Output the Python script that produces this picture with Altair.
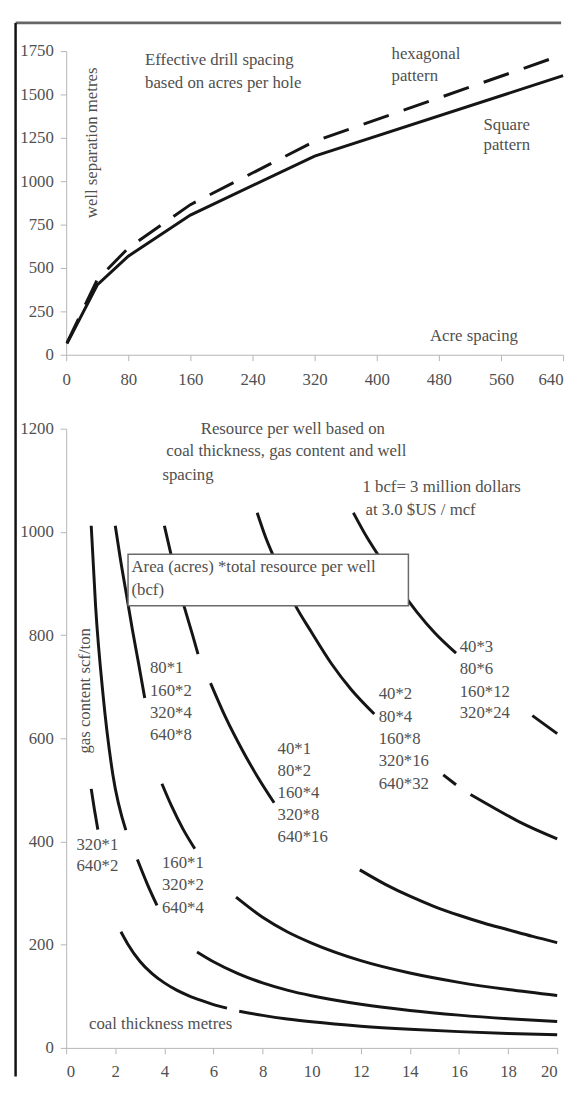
import altair as alt
import pandas as pd

FONT = "Liberation Serif"
TXT = "#505050"
LINE = "#151515"

# ---------------- top chart data ----------------
acres = [1, 40, 80, 160, 320, 640]
square_m = [64, 402, 568, 805, 1145, 1608]
hex_m = [68, 432, 615, 865, 1230, 1730]
top_x_ticks = [0, 80, 160, 240, 320, 400, 480, 560, 640]
top_y_ticks = [0, 250, 500, 750, 1000, 1250, 1500, 1750]

# ---------------- bottom chart data (curve segments) ----------------
F1_x = [1.02, 1.15, 1.29]
F1_y = [502, 462, 423]
F2_x = [2.23, 2.5, 3.0, 3.5, 4.0, 4.5, 5.0, 5.5, 6.0, 6.55]
F2_y = [225, 202, 168, 144, 126, 112, 101, 92, 84, 77]
F3_x = [7.05, 8, 9, 10, 12, 14, 16, 18, 20]
F3_y = [71, 63, 56, 50.5, 42, 36, 31.5, 28, 25.5]
E1_x = [1.02, 1.2, 1.5, 1.9, 2.43]
E1_y = [1012, 855, 685, 530, 422]
E2_x = [2.9, 3.3, 3.7]
E2_y = [365, 318, 276]
E3_x = [5.33, 6, 7, 8, 9, 10, 12, 14, 16, 18, 20]
E3_y = [186, 167, 144, 126, 112, 101, 84.5, 72.5, 63.5, 56.5, 51]
D1_x = [2.0, 2.2, 2.45, 2.7, 2.95, 3.2]
D1_y = [1012, 950, 880, 810, 745, 678]
D2_x = [3.9, 4.3, 4.75, 5.24]
D2_y = [512, 468, 425, 386]
D3_x = [6.92, 8, 9, 10, 12, 14, 16, 18, 20]
D3_y = [292, 253, 225, 203, 169, 145, 127, 113, 101.5]
C1_x = [4.0, 4.3, 4.6, 4.9, 5.15, 5.37]
C1_y = [1012, 950, 890, 840, 800, 763]
C2_x = [5.88, 6.5, 7.2, 7.8, 8.47]
C2_y = [707, 640, 575, 525, 475]
C3_x = [11.96, 13, 14, 15, 16, 17, 18, 19, 20]
C3_y = [345, 317, 294, 274, 257, 242, 229, 216, 204]
B1_x = [7.78, 8.12, 8.45, 9.33, 10.0, 10.8, 11.6, 12.55]
B1_y = [1037, 990, 952, 858, 805, 745, 695, 647]
B2_x = [15.36, 15.88]
B2_y = [529, 510]
B3_x = [16.47, 17.5, 18.5, 20]
B3_y = [491, 463, 437, 405]
A1_x = [11.7, 12.27, 12.67, 13.2, 13.88, 14.28, 15.0, 15.88]
A1_y = [1037, 988, 958, 918, 870, 845, 805, 765]
A2_x = [18.99, 20]
A2_y = [644, 609]

segments = {
    "F1": (F1_x, F1_y), "F2": (F2_x, F2_y), "F3": (F3_x, F3_y),
    "E1": (E1_x, E1_y), "E2": (E2_x, E2_y), "E3": (E3_x, E3_y),
    "D1": (D1_x, D1_y), "D2": (D2_x, D2_y), "D3": (D3_x, D3_y),
    "C1": (C1_x, C1_y), "C2": (C2_x, C2_y), "C3": (C3_x, C3_y),
    "B1": (B1_x, B1_y), "B2": (B2_x, B2_y), "B3": (B3_x, B3_y),
    "A1": (A1_x, A1_y), "A2": (A2_x, A2_y),
}
bot_x_ticks = list(range(0, 21, 2))
bot_y_ticks = [0, 200, 400, 600, 800, 1000, 1200]

# ---------------- annotation texts ----------------
top_texts = [
    ("Effective drill spacing", 101.6, 1697),
    ("based on acres per hole", 101.6, 1565),
    ("hexagonal", 419, 1735),
    ("pattern", 419, 1608),
    ("Square", 537.5, 1325),
    ("pattern", 537.5, 1211),
    ("Acre spacing", 468.6, 108),
]
top_vtext = [("well separation metres", 33, 1221)]

bot_texts = [
    ("Resource per well based on", 5.48, 1199),
    ("coal thickness, gas content and well", 4.08, 1156),
    ("spacing", 3.92, 1111),
    ("1 bcf= 3 million dollars", 12.07, 1086),
    ("at 3.0 $US / mcf", 12.19, 1043),
    ("Area (acres) *total resource per well", 2.66, 932),
    ("(bcf)", 2.66, 887.6),
    ("80*1", 3.41, 736), ("160*2", 3.41, 691.4), ("320*4", 3.41, 648.8), ("640*8", 3.41, 605.4),
    ("40*1", 8.61, 578.6), ("80*2", 8.61, 537.4), ("160*4", 8.61, 494), ("320*8", 8.61, 451.4),
    ("640*16", 8.61, 408),
    ("40*2", 12.73, 685), ("80*4", 12.73, 641), ("160*8", 12.73, 597.7), ("320*16", 12.73, 555),
    ("640*32", 12.73, 511.7),
    ("40*3", 16.03, 776), ("80*6", 16.03, 734.8), ("160*12", 16.03, 690), ("320*24", 16.03, 648.8),
    ("320*1", 0.42, 394), ("640*2", 0.42, 352.6),
    ("160*1", 3.9, 357.7), ("320*2", 3.9, 315.7), ("640*4", 3.9, 271.7),
    ("coal thickness metres", 0.93, 45.5),
]
bot_vtext = [("gas content scf/ton", 0.78, 692)]
box = {"x": [2.52], "x2": [13.94], "y": [956.5], "y2": [857]}

W_TOP, H_TOP = 504, 308
W_BOT, H_BOT = 498, 628

# ---------------- top chart ----------------
top_df = pd.DataFrame({
    "acres": acres + acres,
    "m": square_m + hex_m,
    "pattern": ["square"] * len(acres) + ["hex"] * len(acres),
})
tx = alt.X("acres:Q", scale=alt.Scale(domain=[0, 640], nice=False),
           axis=alt.Axis(values=top_x_ticks, title=None, labelPadding=11, format="d",
                         labelAlign={"condition": {"test": "datum.value == 640", "value": "right"},
                                     "value": "center"}))
ty = alt.Y("m:Q", scale=alt.Scale(domain=[0, 1750], nice=False),
           axis=alt.Axis(values=top_y_ticks, title=None, labelPadding=7, format="d"))

sq = alt.Chart(top_df).transform_filter(alt.datum.pattern == "square").mark_line(
    color=LINE, strokeWidth=3).encode(x=tx, y=ty)
hx = alt.Chart(top_df).transform_filter(alt.datum.pattern == "hex").mark_line(
    color=LINE, strokeWidth=3, strokeDash=[27, 16]).encode(x="acres:Q", y="m:Q")

tt_df = pd.DataFrame(top_texts, columns=["t", "acres", "m"])
tt = alt.Chart(tt_df).mark_text(font=FONT, fontSize=17, color=TXT, align="left",
                                baseline="middle").encode(x="acres:Q", y="m:Q", text="t:N")
tv_df = pd.DataFrame(top_vtext, columns=["t", "acres", "m"])
tv = alt.Chart(tv_df).mark_text(font=FONT, fontSize=17, color=TXT, align="center",
                                baseline="middle", angle=270).encode(x="acres:Q", y="m:Q", text="t:N")

one = pd.DataFrame({"a": [0]})
frame_top = alt.Chart(one).mark_rule(color="#666666", strokeWidth=2.7).encode(
    x=alt.value(-51.3), x2=alt.value(502), y=alt.value(-28.6))
frame_left = alt.Chart(one).mark_rule(color="#111111", strokeWidth=2.5).encode(
    x=alt.value(-51.3), y=alt.value(-28.6), y2=alt.value(1040))

top = alt.layer(sq, hx, tt, tv, frame_top, frame_left).properties(width=W_TOP, height=H_TOP)

# ---------------- bottom chart ----------------
rows = []
for name, (xs, ys) in segments.items():
    for xv, yv in zip(xs, ys):
        rows.append({"thick": xv, "gas": yv, "seg": name})
bot_df = pd.DataFrame(rows)

bx = alt.X("thick:Q", scale=alt.Scale(domain=[0, 20], nice=False),
           axis=alt.Axis(values=bot_x_ticks, title=None, labelPadding=10, format="d"))
by = alt.Y("gas:Q", scale=alt.Scale(domain=[0, 1200], nice=False),
           axis=alt.Axis(values=bot_y_ticks, title=None, labelPadding=7, format="d"))

curves = alt.Chart(bot_df).mark_line(color=LINE, strokeWidth=3, interpolate="monotone").encode(
    x=bx, y=by, detail="seg:N", order="thick:Q")

box_df = pd.DataFrame({"thick": box["x"], "thick2": box["x2"], "gas": box["y"], "gas2": box["y2"]})
boxm = alt.Chart(box_df).mark_rect(fill="white", stroke="#6a6a6a", strokeWidth=1.5).encode(
    x="thick:Q", x2="thick2:Q", y="gas:Q", y2="gas2:Q")

bt_df = pd.DataFrame(bot_texts, columns=["t", "thick", "gas"])
bt = alt.Chart(bt_df).mark_text(font=FONT, fontSize=17, color=TXT, align="left",
                                baseline="middle").encode(x="thick:Q", y="gas:Q", text="t:N")
bv_df = pd.DataFrame(bot_vtext, columns=["t", "thick", "gas"])
bv = alt.Chart(bv_df).mark_text(font=FONT, fontSize=17, color=TXT, align="center",
                                baseline="middle", angle=270).encode(x="thick:Q", y="gas:Q", text="t:N")

bottom = alt.layer(curves, boxm, bt, bv).properties(width=W_BOT, height=H_BOT)

chart = alt.vconcat(top, bottom, spacing=75, bounds="flush").properties(
    padding={"left": 5, "top": 5, "right": 0, "bottom": 0}, background="white"
).configure_view(stroke="transparent").configure_axis(
    grid=False, domainColor="#b5b5b5", tickColor="#b5b5b5", tickSize=6,
    labelFont=FONT, labelFontSize=17, labelColor=TXT,
)

chart.save("out.html", embed_options={"renderer": "svg", "actions": False})
